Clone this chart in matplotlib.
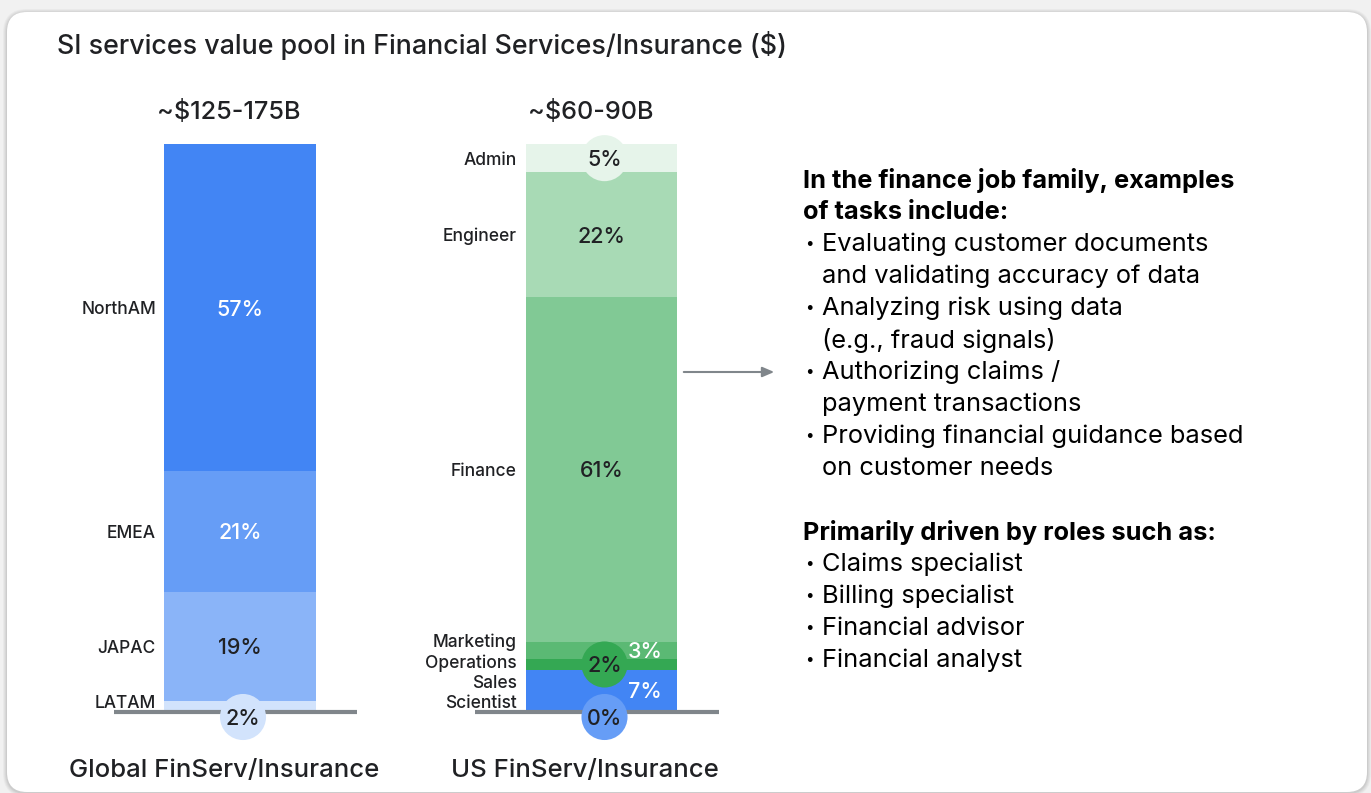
import matplotlib
matplotlib.use("Agg")
import matplotlib.pyplot as plt
from matplotlib.patches import FancyBboxPatch
import numpy as np

# ---------------- data ----------------
title = "SI services value pool in Financial Services/Insurance ($)"
global_title = "Global FinServ/Insurance"
us_title = "US FinServ/Insurance"
global_total = "~$125-175B"
us_total = "~$60-90B"

global_cats = ["NorthAM", "EMEA", "JAPAC", "LATAM"]
global_vals = [57, 21, 19, 2]

us_cats = ["Admin", "Engineer", "Finance", "Marketing", "Operations", "Sales", "Scientist"]
us_vals = [5, 22, 61, 3, 2, 7, 0.4]

heading1 = ["In the finance job family, examples", "of tasks include:"]
tasks = [["Evaluating customer documents", "and validating accuracy of data"],
         ["Analyzing risk using data", "(e.g., fraud signals)"],
         ["Authorizing claims /", "payment transactions"],
         ["Providing financial guidance based", "on customer needs"]]
heading2 = "Primarily driven by roles such as:"
roles = ["Claims specialist", "Billing specialist", "Financial advisor", "Financial analyst"]

# ---------------- style ----------------
W, H, DPI = 1371, 793, 100
FONT = "Inter"
DARK = "#202124"
GRAY = "#80868B"
global_colors = ["#4285F4", "#669DF6", "#8AB4F8", "#D2E3FC"]
global_style = ["white", "white", "dark", "circle_bottom"]
us_colors = ["#E6F4EA", "#A8DAB5", "#81C995", "#5BB974", "#34A853", "#4285F4", "#669DF6"]
us_style = ["circle", "dark", "dark", "side", "circle", "side", "circle_bottom"]

plt.rcParams["font.family"] = [FONT, "DejaVu Sans"]

fig = plt.figure(figsize=(W / DPI, H / DPI), dpi=DPI)
fig.patch.set_facecolor("#f1f1f1")

bg = fig.add_axes([0, 0, 1, 1])
bg.set_xlim(0, W)
bg.set_ylim(H, 0)
bg.axis("off")

# card with soft shadow
cx0, cy0, cx1, cy1, rad = 7, 12, 1367, 792, 20
for i, a in enumerate([0.03, 0.035, 0.04, 0.05]):
    g = 4 - i
    bg.add_patch(FancyBboxPatch((cx0 - g, cy0 - g + 1), cx1 - cx0 + 2 * g, cy1 - cy0 + 2 * g,
                                boxstyle=f"round,pad=0,rounding_size={rad + g}",
                                fc="black", ec="none", alpha=a, zorder=0))
bg.add_patch(FancyBboxPatch((cx0, cy0), cx1 - cx0, cy1 - cy0,
                            boxstyle=f"round,pad=0,rounding_size={rad}",
                            fc="white", ec="none", zorder=1))

hk = dict(fontweight="medium", color=DARK, va="center_baseline", zorder=3)
bg.text(57, 42, title, fontsize=19.3, ha="left", **hk)
bg.text(229, 109, global_total, fontsize=18.2, ha="center", **hk)
bg.text(591, 109, us_total, fontsize=18.2, ha="center", **hk)
bg.text(224, 768, global_title, fontsize=18.5, ha="center", **hk)
bg.text(585, 768, us_title, fontsize=18.5, ha="center", **hk)

# arrow
bg.annotate("", xy=(777, 372), xytext=(681, 372),
            arrowprops=dict(arrowstyle="-|>,head_length=0.7,head_width=0.3", color=GRAY, lw=1.5),
            zorder=3)

# right-hand text panel
TS = 18.3
LINE = 32
y = 178
kw = dict(fontsize=TS, color="black", va="center_baseline", zorder=3)
bk = dict(fontsize=11, color="black", ha="center", va="center", zorder=3)


def bullet(yy):
    bg.text(809, yy + 1, "•", **bk)


for ln in heading1:
    bg.text(803, y, ln, fontweight="bold", **kw)
    y += LINE
for t in tasks:
    bullet(y)
    for ln in t:
        bg.text(822, y, ln, **kw)
        y += LINE
y += LINE
bg.text(803, y, heading2, fontweight="bold", **kw)
y += LINE
for r in roles:
    bullet(y)
    bg.text(822, y, r, **kw)
    y += LINE

# ---------------- bars ----------------
BAR_TOP, BAR_BOT = 144, 712
ax = fig.add_axes([0, (H - BAR_BOT) / H, 1, (BAR_BOT - BAR_TOP) / H])
ax.set_xlim(0, W)
ax.set_ylim(0, 100)
ax.axis("off")
ax.patch.set_alpha(0)
px_per_unit = (BAR_BOT - BAR_TOP) / 100.0


def draw_stack(xc, width, cats, vals, colors, styles, label_right, base_x0, base_x1, side_x):
    vals = np.asarray(vals, float)
    shares = vals / vals.sum() * 100
    tops = 100 - np.concatenate([[0], np.cumsum(shares)[:-1]])
    bottoms = tops - shares
    mids = (tops + bottoms) / 2
    ax.bar(xc, shares, bottom=bottoms, width=width, color=colors, edgecolor="none", zorder=2)
    gap = 20.5 / px_per_unit
    lab = mids.copy()
    lab[-1] = max(lab[-1], 10 / px_per_unit)
    for i in range(len(lab) - 2, -1, -1):
        lab[i] = max(lab[i], lab[i + 1] + gap)
    for c, ly in zip(cats, lab):
        ax.text(label_right, ly, c, fontsize=12.5, fontweight="medium", color=DARK, ha="right",
                va="center_baseline", zorder=4)
    ax.plot([base_x0, base_x1], [0, 0], color=GRAY, lw=3, solid_capstyle="butt", zorder=3,
            clip_on=False)
    pk = dict(fontsize=15.5, fontweight="medium", ha="center", va="center_baseline")
    for v, m, col, st in zip(vals, mids, colors, styles):
        txt = f"{round(v)}%"
        if st in ("white", "dark"):
            ax.text(xc, m, txt, color="white" if st == "white" else DARK, zorder=4, **pk)
        elif st == "side":
            ax.text(side_x, m, txt, color="white", zorder=4, **pk)
        else:
            cy = m if st == "circle" else -5 / px_per_unit
            ax.scatter([xc + 3], [cy], s=1100, color=col, edgecolor="none", zorder=5, clip_on=False)
            ax.text(xc + 3, cy, txt, color=DARK, zorder=6, clip_on=False, **pk)


draw_stack(240, 152, global_cats, global_vals, global_colors, global_style, 156, 114, 357, 285)
draw_stack(601.5, 151, us_cats, us_vals, us_colors, us_style, 517, 475, 719, 645)

fig.savefig("out.png", dpi=DPI, facecolor=fig.get_facecolor())
